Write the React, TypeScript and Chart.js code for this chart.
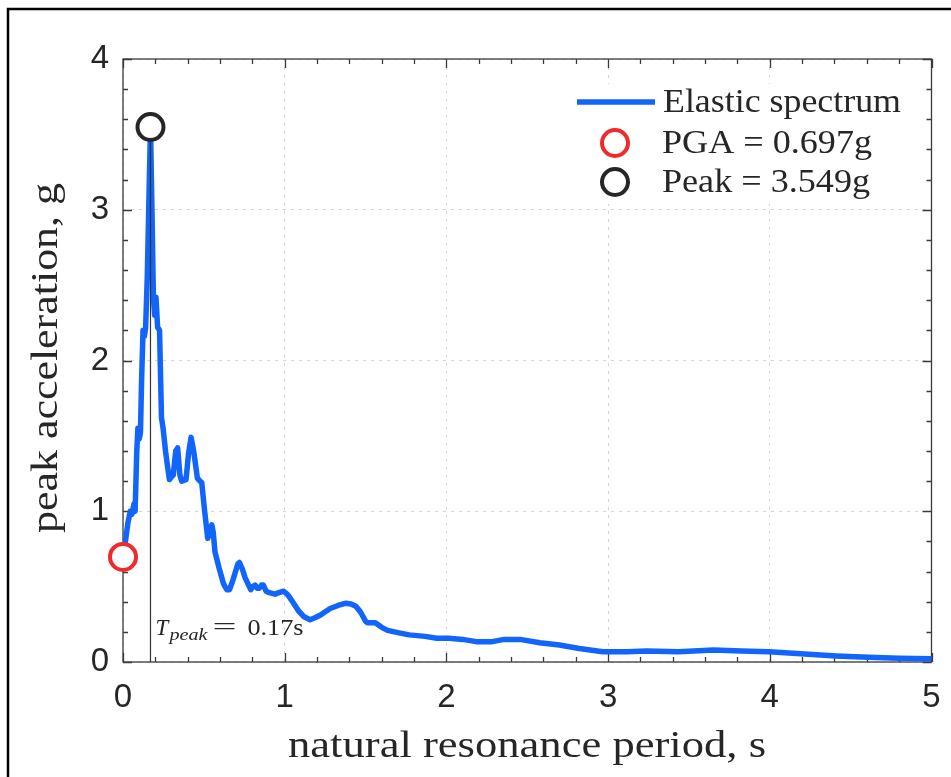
import { useEffect, useRef } from "react";
import { Chart, registerables } from "chart.js";

Chart.register(...registerables);

// Natural period (s) of the single-degree-of-freedom oscillators
const periods = [
  0, 0.015, 0.03, 0.045, 0.055, 0.068, 0.075, 0.085, 0.092, 0.1, 0.108, 0.115,
  0.124, 0.132, 0.14, 0.15, 0.16, 0.17, 0.18, 0.188, 0.196, 0.204, 0.214, 0.226,
  0.238, 0.248, 0.265, 0.287, 0.3, 0.311, 0.326, 0.338, 0.352, 0.363, 0.39, 0.405,
  0.421, 0.437, 0.46, 0.476, 0.487, 0.505, 0.524, 0.536, 0.549, 0.558, 0.569,
  0.595, 0.621, 0.642, 0.658, 0.676, 0.693, 0.71, 0.72, 0.737, 0.755, 0.79, 0.803,
  0.817, 0.83, 0.844, 0.856, 0.868, 0.885, 0.905, 0.94, 0.965, 0.992, 1.01, 1.023,
  1.055, 1.085, 1.12, 1.157, 1.19, 1.219, 1.281, 1.33, 1.379, 1.41, 1.44, 1.47, 1.5,
  1.513, 1.56, 1.6, 1.636, 1.7, 1.77, 1.868, 1.941, 2.015, 2.1, 2.185, 2.283, 2.358,
  2.455, 2.577, 2.699, 2.822, 2.968, 3.115, 3.238, 3.433, 3.653, 3.824, 3.996,
  4.216, 4.41, 4.607, 4.8, 5.0,
];

// Elastic response spectrum: peak acceleration (g) for each period
const spectrum = [
  0.697, 0.8, 0.92, 1.0, 0.98, 1.05, 1.0, 1.39, 1.55, 1.48, 1.52, 1.87,
  2.2, 2.16, 2.22, 2.55, 3.05, 3.549, 2.95, 2.42, 2.3, 2.42, 2.22, 2.2,
  1.62, 1.55, 1.38, 1.21, 1.23, 1.24, 1.4, 1.42, 1.24, 1.2, 1.21, 1.38,
  1.49, 1.4, 1.22, 1.2, 1.19, 1.0, 0.82, 0.86, 0.91, 0.86, 0.73,
  0.62, 0.52, 0.48, 0.48, 0.53, 0.59, 0.65, 0.66, 0.62, 0.56, 0.48, 0.5,
  0.51, 0.49, 0.49, 0.51, 0.51, 0.47, 0.46, 0.45, 0.46, 0.47, 0.455, 0.44,
  0.39, 0.34, 0.3, 0.28, 0.295, 0.31, 0.355, 0.375, 0.39, 0.385, 0.37, 0.33, 0.27,
  0.26, 0.26, 0.23, 0.21, 0.195, 0.18, 0.17, 0.157, 0.157, 0.15, 0.135, 0.135, 0.15,
  0.15, 0.128, 0.113, 0.09, 0.068, 0.068, 0.073, 0.068, 0.08, 0.073, 0.068,
  0.053, 0.04, 0.031, 0.025, 0.022,
];

const pga = 0.697;
const peakPeriod = 0.17;
const peakAccel = 3.549;

const xRange = [0, 5];
const yRange = [0, 4];
const majorStep = 1;
const minorStep = 0.2;

const seriesLabel = "Elastic spectrum";
const pgaLabel = `PGA = ${pga.toFixed(3)}g`;
const peakLabel = `Peak = ${peakAccel.toFixed(3)}g`;
const xTitle = "natural resonance period, s";
const yTitle = "peak acceleration, g";

const BLUE = "#1165fa";
const RED = "#f02a2a";
const DARK = "#262626";
const AXIS = "#3a3a3a";
const GRID = "#d6d6d6";
const SANS = '"Liberation Sans", Arial, Helvetica, sans-serif';
const SERIF = '"Liberation Serif", "Times New Roman", serif';

// Draw text squeezed/stretched horizontally to a given width
function fitText(
  ctx: CanvasRenderingContext2D,
  text: string,
  x: number,
  y: number,
  width: number,
  align: CanvasTextAlign
) {
  const w = ctx.measureText(text).width;
  ctx.save();
  ctx.translate(x, y);
  ctx.scale(width / w, 1);
  ctx.textAlign = align;
  ctx.fillText(text, 0, 0);
  ctx.restore();
}

function circle(ctx: CanvasRenderingContext2D, x: number, y: number, color: string) {
  ctx.save();
  ctx.beginPath();
  ctx.arc(x, y, 13, 0, Math.PI * 2);
  ctx.fillStyle = "#fff";
  ctx.fill();
  ctx.lineWidth = 4;
  ctx.strokeStyle = color;
  ctx.stroke();
  ctx.restore();
}

const decorations = {
  id: "decorations",
  beforeDraw(chart: any) {
    const { ctx, width, height } = chart;
    ctx.save();
    ctx.fillStyle = "#fff";
    ctx.fillRect(0, 0, width, height);
    // outer figure frame
    ctx.strokeStyle = "#000";
    ctx.lineWidth = 2.5;
    ctx.beginPath();
    ctx.moveTo(8, height + 2);
    ctx.lineTo(8, 9);
    ctx.lineTo(width + 2, 9);
    ctx.stroke();
    ctx.restore();
  },
  beforeDatasetsDraw(chart: any) {
    const { ctx, chartArea, scales } = chart;
    const { left, right, top, bottom } = chartArea;
    const x = scales.x;
    const y = scales.y;
    ctx.save();
    ctx.strokeStyle = AXIS;
    ctx.lineWidth = 1.3;
    ctx.strokeRect(left, top, right - left, bottom - top);
    ctx.beginPath();
    const perMajor = Math.round(majorStep / minorStep);
    const nx = Math.round((xRange[1] - xRange[0]) / minorStep);
    for (let i = 0; i <= nx; i++) {
      const v = xRange[0] + i * minorStep;
      const px = Math.round(x.getPixelForValue(v)) + 0.5;
      const len = i % perMajor === 0 ? 9 : 5;
      ctx.moveTo(px, bottom);
      ctx.lineTo(px, bottom - len);
      ctx.moveTo(px, top);
      ctx.lineTo(px, top + len);
    }
    const ny = Math.round((yRange[1] - yRange[0]) / minorStep);
    for (let i = 0; i <= ny; i++) {
      const v = yRange[0] + i * minorStep;
      const py = Math.round(y.getPixelForValue(v)) + 0.5;
      const len = i % perMajor === 0 ? 9 : 5;
      ctx.moveTo(left, py);
      ctx.lineTo(left + len, py);
      ctx.moveTo(right, py);
      ctx.lineTo(right - len, py);
    }
    ctx.stroke();
    ctx.restore();
  },
  afterDraw(chart: any) {
    const { ctx, scales } = chart;
    const x = scales.x;
    const y = scales.y;
    ctx.save();
    ctx.fillStyle = DARK;
    ctx.textBaseline = "alphabetic";

    // axis titles
    ctx.font = `38px ${SERIF}`;
    fitText(ctx, xTitle, 527, 757, 478, "center");
    ctx.save();
    ctx.translate(57, 358);
    ctx.rotate(-Math.PI / 2);
    fitText(ctx, yTitle, 0, 0, 350, "center");
    ctx.restore();

    // period-of-peak annotation
    const tx = x.getPixelForValue(peakPeriod) + 5;
    const ty = y.getPixelForValue(0) - 27;
    ctx.font = `italic 23px ${SERIF}`;
    ctx.textAlign = "left";
    ctx.fillText("T", tx, ty);
    ctx.font = `italic 17px ${SERIF}`;
    fitText(ctx, "peak", tx + 14, ty + 5, 38, "left");
    ctx.font = `24px ${SERIF}`;
    fitText(ctx, "=", tx + 57, ty - 1, 24, "left");
    ctx.font = `23px ${SERIF}`;
    fitText(ctx, `${peakPeriod.toFixed(2)}s`, tx + 92, ty, 56, "left");

    // legend
    ctx.fillStyle = "#fff";
    ctx.fillRect(568, 84, 344, 120);
    ctx.strokeStyle = BLUE;
    ctx.lineWidth = 5.5;
    ctx.beginPath();
    ctx.moveTo(577, 102);
    ctx.lineTo(655, 102);
    ctx.stroke();
    circle(ctx, 615, 143, RED);
    circle(ctx, 615, 182, DARK);
    ctx.fillStyle = DARK;
    ctx.font = `33px ${SERIF}`;
    fitText(ctx, seriesLabel, 663, 111.5, 238, "left");
    fitText(ctx, pgaLabel, 662, 152.5, 210, "left");
    fitText(ctx, peakLabel, 662, 191.5, 208, "left");
    ctx.restore();
  },
};

export default function App() {
  const ref = useRef<HTMLCanvasElement>(null);

  useEffect(() => {
    const canvas = ref.current;
    if (!canvas) return;
    const gridColor = (c: any) =>
      Math.abs(c.tick.value - Math.round(c.tick.value)) < 1e-6 ? GRID : "rgba(0,0,0,0)";
    const chart = new Chart(canvas, {
      type: "scatter",
      data: {
        datasets: [
          {
            label: seriesLabel,
            data: periods.map((t, i) => ({ x: t, y: spectrum[i] })),
            showLine: true,
            borderColor: BLUE,
            backgroundColor: BLUE,
            borderWidth: 5.5,
            borderJoinStyle: "round",
            borderCapStyle: "round",
            pointRadius: 0,
            order: 3,
          },
          {
            label: "T_peak",
            data: [
              { x: peakPeriod, y: 0 },
              { x: peakPeriod, y: peakAccel },
            ],
            showLine: true,
            borderColor: "#333",
            borderWidth: 1.2,
            pointRadius: 0,
            order: 2,
          },
          {
            label: pgaLabel,
            data: [{ x: 0, y: pga }],
            pointRadius: 13,
            pointBorderWidth: 4,
            pointBorderColor: RED,
            pointBackgroundColor: "#fff",
            clip: false,
            order: 1,
          },
          {
            label: peakLabel,
            data: [{ x: peakPeriod, y: peakAccel }],
            pointRadius: 13,
            pointBorderWidth: 4,
            pointBorderColor: DARK,
            pointBackgroundColor: "#fff",
            clip: false,
            order: 0,
          },
        ],
      },
      options: {
        responsive: false,
        animation: false,
        devicePixelRatio: 1,
        events: [],
        layout: { padding: { left: 0, top: 59, right: 19.5, bottom: 0 } },
        plugins: { legend: { display: false }, tooltip: { enabled: false } },
        scales: {
          x: {
            type: "linear",
            min: xRange[0],
            max: xRange[1],
            afterFit: (s: any) => {
              s.height = 115;
              s.paddingLeft = 0;
              s.paddingRight = 0;
            },
            ticks: {
              stepSize: majorStep,
              maxRotation: 0,
              padding: 16,
              color: DARK,
              font: { family: SANS, size: 33 },
            },
            grid: { color: gridColor, lineWidth: 1, drawTicks: false },
            border: { display: false, dash: [3, 5] },
          },
          y: {
            type: "linear",
            min: yRange[0],
            max: yRange[1],
            afterFit: (s: any) => {
              s.width = 123;
              s.paddingTop = 0;
              s.paddingBottom = 0;
            },
            ticks: {
              stepSize: majorStep,
              padding: 14,
              color: DARK,
              font: { family: SANS, size: 33 },
            },
            grid: { color: gridColor, lineWidth: 1, drawTicks: false },
            border: { display: false, dash: [3, 5] },
          },
        },
      },
      plugins: [decorations],
    } as any);
    return () => chart.destroy();
  }, []);

  return (
    <div style={{ position: "absolute", left: 0, top: 0, width: 951, height: 777, background: "#fff" }}>
      <canvas ref={ref} width={951} height={777} style={{ display: "block" }} />
    </div>
  );
}
